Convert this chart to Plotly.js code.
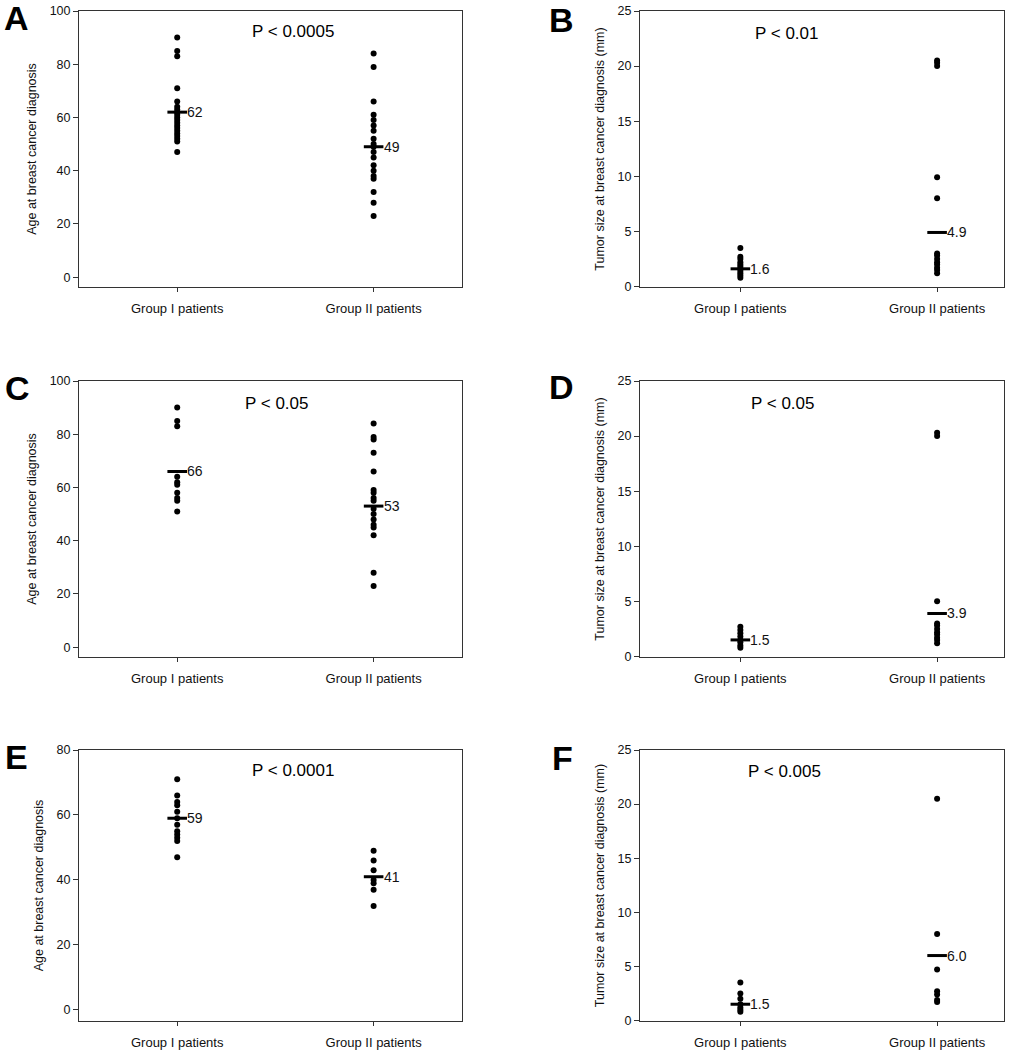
<!DOCTYPE html>
<html><head><meta charset="utf-8">
<script src="https://cdn.plot.ly/plotly-3.0.1.min.js"></script>
<style>body{margin:0;background:#fff}#chart{width:1036px;height:1050px}</style>
</head><body><div id="chart"></div>
<script>
const groups = ["Group I patients", "Group II patients"];
const ageTitle = "Age at breast cancer diagnosis";
const sizeTitle = "Tumor size at breast cancer diagnosis (mm)";

// Panel A – age
const ageA_I = [90, 85, 83, 71, 66, 64, 63, 62, 61, 60, 59, 58, 57, 56, 55, 54, 53, 52, 51, 47];
const ageA_II = [84, 79, 66, 61, 59, 57, 55, 52, 50, 49, 47, 45, 42, 40, 38, 37, 32, 28, 23];
const markA = [62, 49];
const markA_labels = ["62", "49"];
const pA = "P < 0.0005";

// Panel B – tumor size
const sizeB_I = [3.5, 2.7, 2.5, 2.2, 2.0, 1.8, 1.6, 1.4, 1.2, 1.0, 0.8];
const sizeB_II = [20.5, 20.3, 20.0, 9.9, 8.0, 3.0, 2.8, 2.5, 2.2, 2.0, 1.7, 1.5, 1.2];
const markB = [1.6, 4.9];
const markB_labels = ["1.6", "4.9"];
const pB = "P < 0.01";

// Panel C – age
const ageC_I = [90, 85, 83, 64, 62, 61, 58, 56, 55, 51];
const ageC_II = [84, 79, 78, 73, 66, 59, 58, 56, 55, 52, 50, 48, 46, 45, 42, 28, 23];
const markC = [66, 53];
const markC_labels = ["66", "53"];
const pC = "P < 0.05";

// Panel D – tumor size
const sizeD_I = [2.7, 2.4, 2.1, 1.8, 1.5, 1.3, 1.0, 0.8];
const sizeD_II = [20.3, 20.0, 5.0, 3.0, 2.8, 2.5, 2.2, 2.0, 1.7, 1.5, 1.2];
const markD = [1.5, 3.9];
const markD_labels = ["1.5", "3.9"];
const pD = "P < 0.05";

// Panel E – age
const ageE_I = [71, 66, 64, 63, 61, 59, 57, 55, 54, 53, 52, 47];
const ageE_II = [49, 46, 43, 40, 39, 37, 32];
const markE = [59, 41];
const markE_labels = ["59", "41"];
const pE = "P < 0.0001";

// Panel F – tumor size
const sizeF_I = [3.5, 2.5, 2.0, 1.5, 1.2, 1.0, 0.8];
const sizeF_II = [20.5, 8.0, 4.7, 2.7, 2.4, 1.9, 1.7];
const markF = [1.5, 6.0];
const markF_labels = ["1.5", "6.0"];
const pF = "P < 0.005";

const panelLetters = ["A", "B", "C", "D", "E", "F"];

const FONT = "Liberation Sans, Arial, sans-serif";
const W = 1036, H = 1050;
const colsPx = [[79, 462], [640, 1004]];
const rowsPx = [[11, 287], [381, 657], [750, 1021]];
const xRanges = [[-0.5, 1.45], [-0.51, 1.34]];

const panels = [
  {g1: ageA_I, g2: ageA_II, mark: markA, lab: markA_labels, p: pA, title: ageTitle, yr: [-3.7, 100], dt: 20, px: 0.559, py: 0.924},
  {g1: sizeB_I, g2: sizeB_II, mark: markB, lab: markB_labels, p: pB, title: sizeTitle, yr: [-0.05, 25], dt: 5, px: 0.404, py: 0.92},
  {g1: ageC_I, g2: ageC_II, mark: markC, lab: markC_labels, p: pC, title: ageTitle, yr: [-3.7, 100], dt: 20, px: 0.517, py: 0.92},
  {g1: sizeD_I, g2: sizeD_II, mark: markD, lab: markD_labels, p: pD, title: sizeTitle, yr: [-0.05, 25], dt: 5, px: 0.393, py: 0.92},
  {g1: ageE_I, g2: ageE_II, mark: markE, lab: markE_labels, p: pE, title: ageTitle, yr: [-3.4, 80], dt: 20, px: 0.559, py: 0.926},
  {g1: sizeF_I, g2: sizeF_II, mark: markF, lab: markF_labels, p: pF, title: sizeTitle, yr: [-0.05, 25], dt: 5, px: 0.398, py: 0.919}
];
const letterPos = [[16, 18], [561, 20], [17, 388], [561, 387], [16, 757], [562, 758]];

const traces = [];
const layout = {
  width: W, height: H,
  margin: {l: 0, r: 0, t: 0, b: 0},
  paper_bgcolor: "#ffffff", plot_bgcolor: "#ffffff",
  showlegend: false,
  font: {family: FONT, size: 12, color: "#000"},
  annotations: []
};

panels.forEach((pn, i) => {
  const n = i + 1;
  const xa = n === 1 ? "x" : "x" + n;
  const ya = n === 1 ? "y" : "y" + n;
  const col = colsPx[i % 2], row = rowsPx[Math.floor(i / 2)];
  layout["xaxis" + (n === 1 ? "" : n)] = {
    domain: [col[0] / W, col[1] / W],
    anchor: ya,
    type: "category",
    categoryorder: "array", categoryarray: groups,
    range: xRanges[i % 2],
    showline: true, mirror: true, linecolor: "#333", linewidth: 1,
    ticks: "outside", ticklen: 4, tickcolor: "#333",
    ticklabelstandoff: 5,
    showgrid: false, zeroline: false,
    tickfont: {family: FONT, size: 13, color: "#111"}
  };
  layout["yaxis" + (n === 1 ? "" : n)] = {
    domain: [1 - row[1] / H, 1 - row[0] / H],
    anchor: xa,
    range: pn.yr, dtick: pn.dt, tick0: 0,
    showline: true, mirror: true, linecolor: "#333", linewidth: 1,
    ticks: "outside", ticklen: 5, tickcolor: "#333",
    showgrid: false, zeroline: false,
    tickfont: {family: FONT, size: 12.5, color: "#111"},
    title: {text: pn.title, font: {family: FONT, size: 12.5, color: "#111"}, standoff: 10}
  };
  [pn.g1, pn.g2].forEach((vals, k) => {
    traces.push({
      type: "scatter", mode: "markers",
      x: vals.map(() => groups[k]), y: vals,
      xaxis: xa, yaxis: ya,
      marker: {color: "#000", size: 6, symbol: "circle"},
      hoverinfo: "y"
    });
  });
  traces.push({
    type: "scatter", mode: "markers",
    x: groups, y: pn.mark,
    xaxis: xa, yaxis: ya,
    marker: {symbol: "line-ew", size: 14, color: "#000", line: {color: "#000", width: 3}},
    hoverinfo: "y"
  });
  pn.mark.forEach((v, k) => {
    layout.annotations.push({
      x: groups[k], y: v, xref: xa, yref: ya,
      text: pn.lab[k], showarrow: false,
      xanchor: "left", yanchor: "middle", xshift: 8,
      font: {family: FONT, size: 14, color: "#111"}
    });
  });
  layout.annotations.push({
    x: pn.px, y: pn.py, xref: xa + " domain", yref: ya + " domain",
    text: pn.p, showarrow: false, xanchor: "center", yanchor: "middle",
    font: {family: FONT, size: 17, color: "#000"}
  });
  layout.annotations.push({
    x: letterPos[i][0] / W, y: 1 - letterPos[i][1] / H, xref: "paper", yref: "paper",
    text: "<b>" + panelLetters[i] + "</b>", showarrow: false,
    xanchor: "center", yanchor: "middle",
    font: {family: FONT, size: 34, color: "#000"}
  });
});

Plotly.newPlot("chart", traces, layout, {displayModeBar: false, staticPlot: true});
</script>
</body></html>
